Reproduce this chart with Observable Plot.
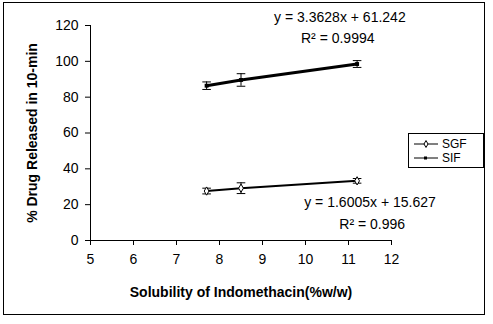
<!DOCTYPE html>
<html>
<head>
<meta charset="utf-8">
<script src="https://cdn.jsdelivr.net/npm/d3@7"></script>
<script src="https://cdn.jsdelivr.net/npm/@observablehq/plot@0.6"></script>
<style>
  html, body { margin: 0; padding: 0; background: #fff; }
  #wrap { position: relative; width: 493px; height: 324px; font-family: "Liberation Sans", Arial, sans-serif; }
  #border { position: absolute; left: 3px; top: 2px; width: 480px; height: 311px; border: 1.5px solid #000; box-sizing: content-box; pointer-events: none; }
  #legend { position: absolute; left: 408px; top: 133px; width: 76px; height: 35px; border: 1px solid #000; box-sizing: border-box; background: #fff; }
</style>
</head>
<body>
<div id="wrap">
  <div id="chart"></div>
  <div id="border"></div>
  <div id="legend"></div>
</div>
<script>
// Data
const solubility = [7.7, 8.5, 11.2];
const sgfValues = [27.6, 29.2, 33.3];
const sgfErr = [1.6, 3.0, 1.3];
const sifValues = [86.4, 89.6, 98.5];
const sifErr = [2.1, 3.5, 1.9];
const xTicks = [5, 6, 7, 8, 9, 10, 11, 12];
const yTicks = [0, 20, 40, 60, 80, 100, 120];
const eqLabels = [
  {series: "SIF", eq: "y = 3.3628x + 61.242", r2: "0.9994"},
  {series: "SGF", eq: "y = 1.6005x + 15.627", r2: "0.996"}
];

const sgf = solubility.map((x, i) => ({series: "SGF", x, y: sgfValues[i], e: sgfErr[i]}));
const sif = solubility.map((x, i) => ({series: "SIF", x, y: sifValues[i], e: sifErr[i]}));
const all = [...sgf, ...sif];
const cap = 0.1;

const font = '"Liberation Sans", Arial, sans-serif';

const plot = Plot.plot({
  width: 493,
  height: 324,
  marginLeft: 90,
  marginRight: 102,
  marginTop: 25,
  marginBottom: 84,
  style: {fontFamily: font, fontSize: "14px", color: "#000", background: "transparent"},
  x: {domain: [5, 12], ticks: xTicks, tickFormat: d => String(d), label: null},
  y: {domain: [0, 120], ticks: yTicks, tickFormat: d => String(d), label: null},
  marks: [
    Plot.ruleY([0]),
    Plot.ruleX([5]),
    Plot.axisX({ticks: xTicks, tickFormat: d => String(d), tickSize: 5, tickPadding: 9, fontSize: 14, label: null}),
    Plot.axisY({ticks: yTicks, tickFormat: d => String(d), tickSize: 5, tickPadding: 7, fontSize: 14, label: null}),
    Plot.line(sif, {x: "x", y: "y", stroke: "#000", strokeWidth: 3}),
    Plot.line(sgf, {x: "x", y: "y", stroke: "#000", strokeWidth: 2}),
    Plot.ruleX(all, {x: "x", y1: d => d.y - d.e, y2: d => d.y + d.e, stroke: "#000", strokeWidth: 1}),
    Plot.link(all, {x1: d => d.x - cap, x2: d => d.x + cap, y1: d => d.y - d.e, y2: d => d.y - d.e, stroke: "#000", strokeWidth: 1}),
    Plot.link(all, {x1: d => d.x - cap, x2: d => d.x + cap, y1: d => d.y + d.e, y2: d => d.y + d.e, stroke: "#000", strokeWidth: 1}),
    Plot.dot(sgf, {x: "x", y: "y", symbol: "diamond", r: 2.5, stroke: "#000", fill: "#fff", strokeWidth: 1}),
    Plot.dot(sif, {x: "x", y: "y", symbol: "square", r: 2.2, fill: "#000"}),
    // trendline labels
    Plot.text([eqLabels[0]], {x: 10.8, y: 124.5, text: "eq", fontSize: 14}),
    Plot.text([eqLabels[0]], {x: 10.75, y: 112.5, text: d => "R\u00B2 = " + d.r2, fontSize: 14}),
    Plot.text([eqLabels[1]], {x: 11.5, y: 21, text: "eq", fontSize: 14}),
    Plot.text([eqLabels[1]], {x: 11.55, y: 9, text: d => "R\u00B2 = " + d.r2, fontSize: 14}),
    // axis titles
    Plot.text(["Solubility of Indomethacin(%w/w)"], {frameAnchor: "bottom", dy: 56, text: d => d, fontWeight: "bold", fontSize: 14}),
    Plot.text(["% Drug Released in 10-min"], {frameAnchor: "left", dx: -58, rotate: -90, textAnchor: "middle", text: d => d, fontWeight: "bold", fontSize: 14})
  ]
});
document.getElementById("chart").appendChild(plot);

// Legend
const lg = d3.select("#legend").append("svg").attr("width", 76).attr("height", 35)
  .style("font-family", font).style("font-size", "12px");
const items = [{name: "SGF", sym: "diamond"}, {name: "SIF", sym: "square"}];
items.forEach((it, i) => {
  const cy = 10 + i * 14;
  lg.append("line").attr("x1", 5).attr("x2", 29).attr("y1", cy).attr("y2", cy).attr("stroke", "#000").attr("stroke-width", 1);
  if (it.sym === "diamond") {
    lg.append("path").attr("d", d3.symbol(d3.symbolDiamond, 14)()).attr("transform", `translate(17,${cy})`).attr("fill", "#fff").attr("stroke", "#000");
  } else {
    lg.append("rect").attr("x", 15).attr("y", cy - 1.5).attr("width", 3).attr("height", 3).attr("fill", "#000");
  }
  lg.append("text").attr("x", 33).attr("y", cy).attr("dy", "0.35em").text(it.name);
});
</script>
</body>
</html>
